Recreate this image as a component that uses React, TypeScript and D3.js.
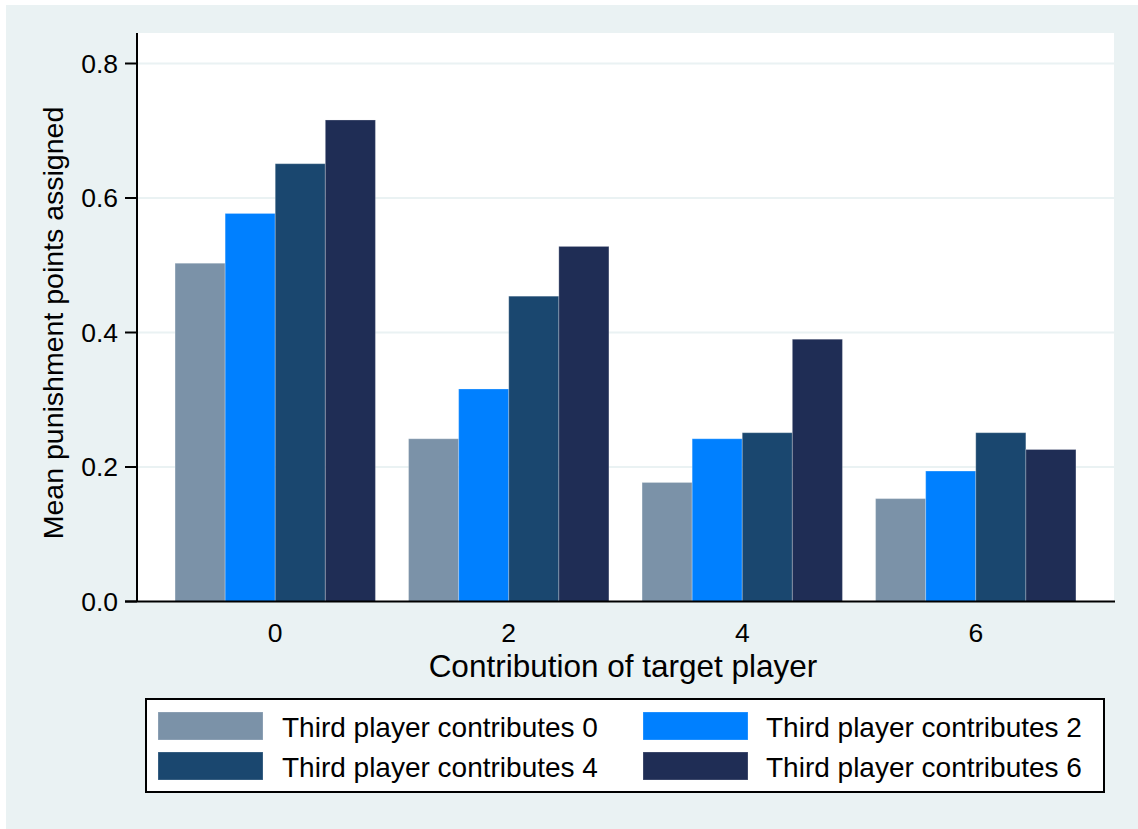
import React from "react";
import * as d3 from "d3";

const categories = ["0", "2", "4", "6"];
const seriesNames = [
  "Third player contributes 0",
  "Third player contributes 2",
  "Third player contributes 4",
  "Third player contributes 6",
];
const third0 = [0.503, 0.242, 0.177, 0.153];
const third2 = [0.577, 0.316, 0.242, 0.194];
const third4 = [0.651, 0.454, 0.251, 0.251];
const third6 = [0.716, 0.528, 0.390, 0.226];
const yTicks = [0, 0.2, 0.4, 0.6, 0.8];
const colors = ["#7B92A8", "#0080FF", "#1A476F", "#1F2D55"];

const seriesValues = [third0, third2, third4, third6];

const W = 1138;
const H = 829;
const plot = { left: 137, right: 1114, top: 33, bottom: 601 };
const FONT = "'Liberation Sans', Arial, sans-serif";

export default function App() {
  const x0 = d3
    .scaleBand<string>()
    .domain(categories)
    .range([plot.left, plot.right])
    .paddingInner(0.142)
    .paddingOuter(0.163);
  const x1 = d3
    .scaleBand<number>()
    .domain(d3.range(seriesValues.length))
    .range([0, x0.bandwidth()])
    .padding(0);
  const y = d3.scaleLinear().domain([0, 0.8]).range([601.5, 63.5]);

  const legendCols = [
    { sx: 158, tx: 282 },
    { sx: 643, tx: 766 },
  ];
  const legendRows = [712, 752];

  return (
    <svg
      width={W}
      height={H}
      style={{ position: "absolute", left: 0, top: 0, fontFamily: FONT }}
    >
      <rect x={0} y={0} width={W} height={H} fill="#ffffff" />
      <rect x={6} y={5} width={W - 6} height={H - 5} fill="#EAF2F3" />
      <rect
        x={plot.left}
        y={plot.top}
        width={plot.right - plot.left}
        height={plot.bottom - plot.top}
        fill="#ffffff"
      />
      {yTicks
        .filter((t) => t > 0)
        .map((t) => (
          <line
            key={"g" + t}
            x1={plot.left}
            x2={plot.right}
            y1={y(t)}
            y2={y(t)}
            stroke="#EAF2F3"
            strokeWidth={2}
          />
        ))}
      {categories.map((c, ci) => (
        <g key={c} transform={`translate(${x0(c)},0)`}>
          {seriesValues.map((vals, si) => (
            <rect
              key={si}
              x={x1(si)}
              y={y(vals[ci])}
              width={x1.bandwidth()}
              height={y(0) - y(vals[ci])}
              fill={colors[si]}
              stroke="#ffffff"
              strokeOpacity={0.25}
              strokeWidth={1}
            />
          ))}
        </g>
      ))}
      {/* y axis */}
      <line
        x1={plot.left}
        x2={plot.left}
        y1={plot.top}
        y2={plot.bottom + 1}
        stroke="#000"
        strokeWidth={2}
      />
      {yTicks.map((t) => (
        <g key={"t" + t}>
          <line
            x1={125}
            x2={plot.left}
            y1={y(t)}
            y2={y(t)}
            stroke="#000"
            strokeWidth={2}
          />
          <text
            x={118}
            y={y(t)}
            textAnchor="end"
            dominantBaseline="central"
            fontSize={26.5}
            fill="#000"
          >
            {d3.format(".1f")(t)}
          </text>
        </g>
      ))}
      {/* x axis */}
      <line
        x1={125}
        x2={plot.right + 1}
        y1={y(0)}
        y2={y(0)}
        stroke="#000"
        strokeWidth={2}
      />
      {categories.map((c) => (
        <text
          key={"x" + c}
          x={(x0(c) as number) + x0.bandwidth() / 2}
          y={642}
          textAnchor="middle"
          fontSize={26.5}
          fill="#000"
        >
          {c}
        </text>
      ))}
      <text
        x={623}
        y={677}
        textAnchor="middle"
        fontSize={31.5}
        fill="#000"
      >
        Contribution of target player
      </text>
      <text
        transform={`translate(63,${323}) rotate(-90)`}
        textAnchor="middle"
        fontSize={28.5}
        fill="#000"
      >
        Mean punishment points assigned
      </text>
      {/* legend */}
      <rect
        x={146}
        y={699}
        width={958}
        height={93}
        fill="#ffffff"
        stroke="#000"
        strokeWidth={2}
      />
      {seriesNames.map((name, i) => {
        const col = legendCols[i % 2];
        const rowY = legendRows[Math.floor(i / 2)];
        return (
          <g key={name}>
            <rect
              x={col.sx}
              y={rowY}
              width={105}
              height={28}
              fill={colors[i]}
              stroke="#ffffff"
              strokeOpacity={0.25}
            />
            <text x={col.tx} y={rowY + 25} fontSize={28} fill="#000">
              {name}
            </text>
          </g>
        );
      })}
    </svg>
  );
}
